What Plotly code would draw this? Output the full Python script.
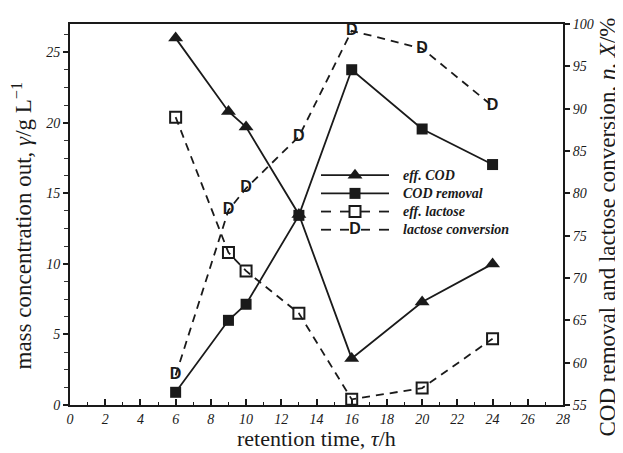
import plotly.graph_objects as go

# ---- data ----
retention_time = [6, 9, 10, 13, 16, 20, 24]
eff_cod = [26.0, 20.8, 19.7, 13.5, 3.3, 7.3, 10.0]            # g/L (left axis)
eff_lactose = [20.4, 10.8, 9.5, 6.5, 0.4, 1.2, 4.7]           # g/L (left axis)
cod_removal = [56.5, 65.0, 66.9, 77.4, 94.6, 87.6, 83.4]      # % (right axis)
lactose_conversion = [58.5, 78.0, 80.6, 86.7, 99.2, 97.1, 90.3]  # % (right axis)

legend_names = ["eff. COD", "COD removal", "eff. lactose", "lactose conversion"]

x_ticks = list(range(0, 29, 2))
left_ticks = [0, 5, 10, 15, 20, 25]
right_ticks = [55, 60, 65, 70, 75, 80, 85, 90, 95, 100]

SERIF = "Liberation Serif"
SANS = "Liberation Sans"
BLACK = "#1a1a1a"
DASH = "8px,6px"

fig = go.Figure()

# eff. COD
fig.add_trace(go.Scatter(x=retention_time, y=eff_cod, mode="lines+markers",
                         line=dict(color=BLACK, width=1.8),
                         marker=dict(symbol="triangle-up", size=13, color=BLACK),
                         showlegend=False, yaxis="y"))
# eff. lactose
fig.add_trace(go.Scatter(x=retention_time, y=eff_lactose, mode="lines+markers",
                         line=dict(color=BLACK, width=1.8, dash=DASH),
                         marker=dict(symbol="square-open", size=11, color=BLACK,
                                     line=dict(width=2, color=BLACK)),
                         showlegend=False, yaxis="y"))
# COD removal
fig.add_trace(go.Scatter(x=retention_time, y=cod_removal, mode="lines+markers",
                         line=dict(color=BLACK, width=1.8),
                         marker=dict(symbol="square", size=11, color=BLACK),
                         showlegend=False, yaxis="y2"))
# lactose conversion (D marker drawn as text)
fig.add_trace(go.Scatter(x=retention_time, y=lactose_conversion, mode="lines",
                         line=dict(color=BLACK, width=1.8, dash=DASH),
                         showlegend=False, yaxis="y2"))
fig.add_trace(go.Scatter(x=retention_time, y=lactose_conversion, mode="text",
                         text=["<b>D</b>"] * len(retention_time), textposition="middle center",
                         textfont=dict(family=SANS, size=16, color=BLACK),
                         showlegend=False, yaxis="y2"))

# ---- custom legend drawn on a pixel-scaled overlay axis (page pixel coords) ----
rows = [171, 189.5, 208, 226.5]
lx0, lx1, lm, ltxt = 321, 389, 355, 401
for r in rows[:2]:
    fig.add_trace(go.Scatter(x=[lx0, lx1], y=[r, r], mode="lines",
                             line=dict(color=BLACK, width=1.8),
                             showlegend=False, xaxis="x3", yaxis="y3", hoverinfo="skip"))
for r in rows[2:]:
    fig.add_trace(go.Scatter(x=[lx0, lx0 + 10, None, lx0 + 19, lx1 - 19, None, lx1 - 10, lx1],
                             y=[r, r, None, r, r, None, r, r], mode="lines",
                             line=dict(color=BLACK, width=1.8),
                             showlegend=False, xaxis="x3", yaxis="y3", hoverinfo="skip"))
fig.add_trace(go.Scatter(x=[lm], y=[rows[0]], mode="markers",
                         marker=dict(symbol="triangle-up", size=13, color=BLACK),
                         showlegend=False, xaxis="x3", yaxis="y3", hoverinfo="skip"))
fig.add_trace(go.Scatter(x=[lm], y=[rows[1]], mode="markers",
                         marker=dict(symbol="square", size=11, color=BLACK),
                         showlegend=False, xaxis="x3", yaxis="y3", hoverinfo="skip"))
fig.add_trace(go.Scatter(x=[lm], y=[rows[2]], mode="markers",
                         marker=dict(symbol="square", size=11, color="white",
                                     line=dict(width=2, color=BLACK)),
                         showlegend=False, xaxis="x3", yaxis="y3", hoverinfo="skip"))
fig.add_trace(go.Scatter(x=[lm], y=[rows[3]], mode="markers",
                         marker=dict(symbol="square", size=12, color="white",
                                     line=dict(width=0, color="white")),
                         showlegend=False, xaxis="x3", yaxis="y3", hoverinfo="skip"))
fig.add_trace(go.Scatter(x=[lm], y=[rows[3]], mode="text", text=["<b>D</b>"],
                         textposition="middle center",
                         textfont=dict(family=SANS, size=16, color=BLACK),
                         showlegend=False, xaxis="x3", yaxis="y3", hoverinfo="skip"))
for r, name in zip(rows, legend_names):
    fig.add_annotation(x=ltxt, y=r, xref="x3", yref="y3", text=f"<b><i>{name}</i></b>",
                       showarrow=False, xanchor="left", yanchor="middle",
                       font=dict(family=SERIF, size=14, color=BLACK))

tickfont = dict(family=SERIF, size=14, color=BLACK)

# page body has an 8px margin: figure is 615x445 so the page is 623x453
fig.update_layout(
    width=615, height=445,
    margin=dict(l=62, r=60, t=9, b=48),
    paper_bgcolor="white", plot_bgcolor="white",
    showlegend=False,
    xaxis=dict(range=[0, 28], tickvals=x_ticks, ticktext=[f"<i>{v}</i>" for v in x_ticks],
               showgrid=False, zeroline=False, showline=True, linecolor=BLACK, linewidth=2,
               mirror=True, ticks="inside", ticklen=6, tickwidth=1.5, tickcolor=BLACK,
               minor=dict(dtick=1, tick0=0, ticks="inside", ticklen=3, tickwidth=1, tickcolor=BLACK),
               tickfont=tickfont),
    yaxis=dict(range=[0, 27], tickvals=left_ticks, ticktext=[f"<i>{v}</i>" for v in left_ticks],
               showgrid=False, zeroline=False, showline=True, linecolor=BLACK, linewidth=2,
               ticks="outside", ticklen=5, tickwidth=1.5, tickcolor=BLACK,
               minor=dict(dtick=1.25, tick0=0, ticks="outside", ticklen=4, tickwidth=1, tickcolor="#333"),
               tickfont=tickfont),
    yaxis2=dict(range=[55, 100], tickvals=right_ticks, ticktext=[f"<i>{v}</i>" for v in right_ticks],
                overlaying="y", side="right",
                showgrid=False, zeroline=False, showline=True, linecolor=BLACK, linewidth=2,
                ticks="outside", ticklen=5, tickwidth=1.5, tickcolor=BLACK,
                tickfont=tickfont),
    xaxis3=dict(range=[70, 563], overlaying="x", visible=False, fixedrange=True),
    yaxis3=dict(range=[405, 17], overlaying="y", visible=False, fixedrange=True),
)

fig.add_annotation(x=0.5, y=0, xref="paper", yref="paper", yshift=-33,
                   text="retention time, <i>τ</i>/h", showarrow=False,
                   xanchor="center", yanchor="middle",
                   font=dict(family=SERIF, size=22, color=BLACK))
fig.add_annotation(x=0, y=0.5, xref="paper", yref="paper", xshift=-48, yshift=-12,
                   text="mass concentration out, <i>γ</i>/g L<sup>−1</sup>", showarrow=False,
                   textangle=-90, xanchor="center", yanchor="middle",
                   font=dict(family=SERIF, size=23, color=BLACK))
fig.add_annotation(x=1, y=0.5, xref="paper", yref="paper", xshift=44, yshift=-13,
                   text="COD removal and lactose conversion, <i>η</i>, <i>X</i>/%", showarrow=False,
                   textangle=-90, xanchor="center", yanchor="middle",
                   font=dict(family=SERIF, size=23, color=BLACK))

fig.write_html("out.html")
